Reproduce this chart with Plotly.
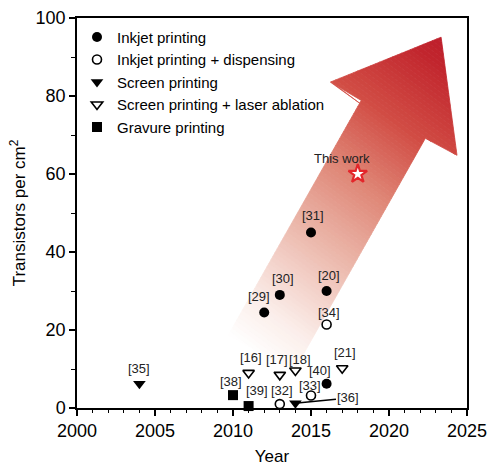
import plotly.graph_objects as go

# ---------------- data ----------------
inkjet_year = [2012, 2013, 2015, 2016, 2016]
inkjet_val = [24.5, 29.0, 45.0, 30.0, 6.2]
inkjet_ref = ["[29]", "[30]", "[31]", "[20]", "[40]"]

disp_year = [2013, 2015, 2016]
disp_val = [1.0, 3.2, 21.4]
disp_ref = ["[32]", "[33]", "[34]"]

screen_year = [2004, 2014]
screen_val = [6.2, 1.2]
screen_ref = ["[35]", "[36]"]

laser_year = [2011, 2013, 2014, 2017]
laser_val = [9.0, 8.5, 9.6, 10.2]
laser_ref = ["[16]", "[17]", "[18]", "[21]"]

gravure_year = [2010, 2011]
gravure_val = [3.3, 0.5]
gravure_ref = ["[38]", "[39]"]

this_year = [2018]
this_val = [60.0]
this_label = ["This work"]

x_ticks = [2000, 2005, 2010, 2015, 2020, 2025]
y_ticks = [0, 20, 40, 60, 80, 100]

# ---------------- styling / layout helpers ----------------
FONT = "Liberation Sans, Arial, Helvetica, sans-serif"

# label offsets in px (dx, dy up)
label_offsets = {
    "[29]": (-5, 16), "[30]": (3, 16), "[31]": (2, 17), "[20]": (2, 16),
    "[40]": (-7, 13), "[32]": (2, 14), "[33]": (-1, 10), "[34]": (2, 12),
    "[35]": (0, 15), "[16]": (2, 15), "[17]": (-3, 15), "[18]": (5, 11),
    "[21]": (3, 16), "[38]": (-2, 14), "[39]": (8, 16), "This work": (-16, 16),
}

# decorative arrow outline (data coordinates)
arrow_x = [2023.34, 2024.36, 2022.33, 2013.87, 2009.70, 2018.22, 2016.24]
arrow_y = [95.08, 64.79, 69.14, 9.22, 18.69, 78.87, 83.56]

# pixel scale of axes (for gradient direction)
SX, SY = 15.6, 3.905
DIR = (0.6, 0.8)

grad_stops = [
    (0.00, (255, 255, 255)),
    (0.12, (251, 238, 234)),
    (0.23, (244, 212, 204)),
    (0.37, (234, 179, 166)),
    (0.55, (223, 134, 118)),
    (0.74, (209, 76, 68)),
    (0.94, (193, 37, 45)),
    (1.00, (190, 30, 43)),
]


def grad_color(t):
    for (t0, c0), (t1, c1) in zip(grad_stops[:-1], grad_stops[1:]):
        if t <= t1:
            f = (t - t0) / (t1 - t0) if t1 > t0 else 0
            c = [round(a + (b - a) * f) for a, b in zip(c0, c1)]
            return "rgb(%d,%d,%d)" % tuple(c)
    return "rgb(%d,%d,%d)" % grad_stops[-1][1]


def proj(x, y):
    return DIR[0] * (x - 2000) * SX + DIR[1] * y * SY


def clip(poly, keep_ge, val):
    out = []
    n = len(poly)
    for i in range(n):
        cur = poly[i]
        prv = poly[i - 1]
        pc, pp = proj(*cur), proj(*prv)
        inc = pc >= val if keep_ge else pc <= val
        inp = pp >= val if keep_ge else pp <= val
        if inc:
            if not inp:
                f = (val - pp) / (pc - pp)
                out.append((prv[0] + f * (cur[0] - prv[0]), prv[1] + f * (cur[1] - prv[1])))
            out.append(cur)
        elif inp:
            f = (val - pp) / (pc - pp)
            out.append((prv[0] + f * (cur[0] - prv[0]), prv[1] + f * (cur[1] - prv[1])))
    return out


fig = go.Figure()

poly = list(zip(arrow_x, arrow_y))
ps = [proj(x, y) for x, y in poly]
pmin, pmax = min(ps), max(ps)
NB = 90
for i in range(NB):
    a = pmin + (pmax - pmin) * i / NB
    b = pmin + (pmax - pmin) * (i + 1) / NB
    piece = clip(clip(poly, True, a), False, b)
    if len(piece) < 3:
        continue
    col = grad_color((i + 0.5) / NB)
    xs = [p[0] for p in piece] + [piece[0][0]]
    ys = [p[1] for p in piece] + [piece[0][1]]
    fig.add_trace(go.Scatter(
        x=xs, y=ys, mode="lines", fill="toself", fillcolor=col,
        line=dict(color=col, width=0.8), hoverinfo="skip", showlegend=False,
    ))

series = [
    ("Inkjet printing", inkjet_year, inkjet_val, inkjet_ref,
     dict(symbol="circle", size=10, color="black")),
    ("Inkjet printing + dispensing", disp_year, disp_val, disp_ref,
     dict(symbol="circle-open", size=9, color="black", line=dict(width=1.6, color="black"))),
    ("Screen printing", screen_year, screen_val, screen_ref,
     dict(symbol="triangle-down", size=11, color="black")),
    ("Screen printing + laser ablation", laser_year, laser_val, laser_ref,
     dict(symbol="triangle-down-open", size=10, color="black", line=dict(width=1.6, color="black"))),
    ("Gravure printing", gravure_year, gravure_val, gravure_ref,
     dict(symbol="square", size=10, color="black")),
]

annotations = []
for name, xs, ys, refs, mk in series:
    fig.add_trace(go.Scatter(
        x=xs, y=ys, mode="markers", name=name, marker=mk, cliponaxis=False,
    ))
    for x, y, r in zip(xs, ys, refs):
        if r == "[36]":
            annotations.append(dict(
                x=x, y=y, xref="x", yref="y", text=r, showarrow=True,
                ax=2017.4, ay=2.6, axref="x", ayref="y", arrowhead=0,
                arrowwidth=1.5, arrowcolor="black", standoff=2,
                font=dict(size=13, color="#222", family=FONT),
            ))
        else:
            dx, dy = label_offsets[r]
            annotations.append(dict(
                x=x, y=y, xref="x", yref="y", text=r, showarrow=False,
                xshift=dx, yshift=dy,
                font=dict(size=13, color="#222", family=FONT),
            ))

fig.add_trace(go.Scatter(
    x=this_year, y=this_val, mode="markers", showlegend=False, cliponaxis=False,
    marker=dict(symbol="star", size=14, color="white", line=dict(width=2.2, color="#e3262b")),
))
for x, y, t in zip(this_year, this_val, this_label):
    dx, dy = label_offsets[t]
    annotations.append(dict(
        x=x, y=y, xref="x", yref="y", text=t, showarrow=False,
        xshift=dx, yshift=dy, font=dict(size=13, color="#222", family=FONT),
    ))

axis_common = dict(
    showline=True, linecolor="black", linewidth=1.5, mirror=True,
    ticks="outside", ticklen=6, tickwidth=1.5, tickcolor="black",
    showgrid=False, zeroline=False, automargin=False,
    tickfont=dict(size=18, color="black", family=FONT),
)

fig.update_layout(
    template="none",
    width=489, height=466,
    margin=dict(l=77, r=22, t=18, b=58),
    paper_bgcolor="white", plot_bgcolor="white",
    font=dict(family=FONT, color="black"),
    xaxis=dict(
        range=[2000, 2025], tickvals=x_ticks,
        minor=dict(dtick=1, ticks="outside", ticklen=3, tickwidth=1.2, tickcolor="black", showgrid=False),
        title=dict(text="Year", font=dict(size=17, family=FONT), standoff=12),
        **axis_common,
    ),
    yaxis=dict(
        range=[0, 100], tickvals=y_ticks,
        minor=dict(dtick=10, ticks="outside", ticklen=4, tickwidth=1.2, tickcolor="black", showgrid=False),
        title=dict(text="Transistors per cm<sup>2</sup>", font=dict(size=17, family=FONT), standoff=6),
        **axis_common,
    ),
    legend=dict(
        x=0.0, y=0.993, xanchor="left", yanchor="top",
        bgcolor="rgba(0,0,0,0)", font=dict(size=15, family=FONT, color="black"),
        tracegroupgap=0,
    ),
    annotations=annotations,
    showlegend=True,
)

fig.write_html("out.html", config={"displayModeBar": False},
               post_script="document.body.style.margin='0px';")
